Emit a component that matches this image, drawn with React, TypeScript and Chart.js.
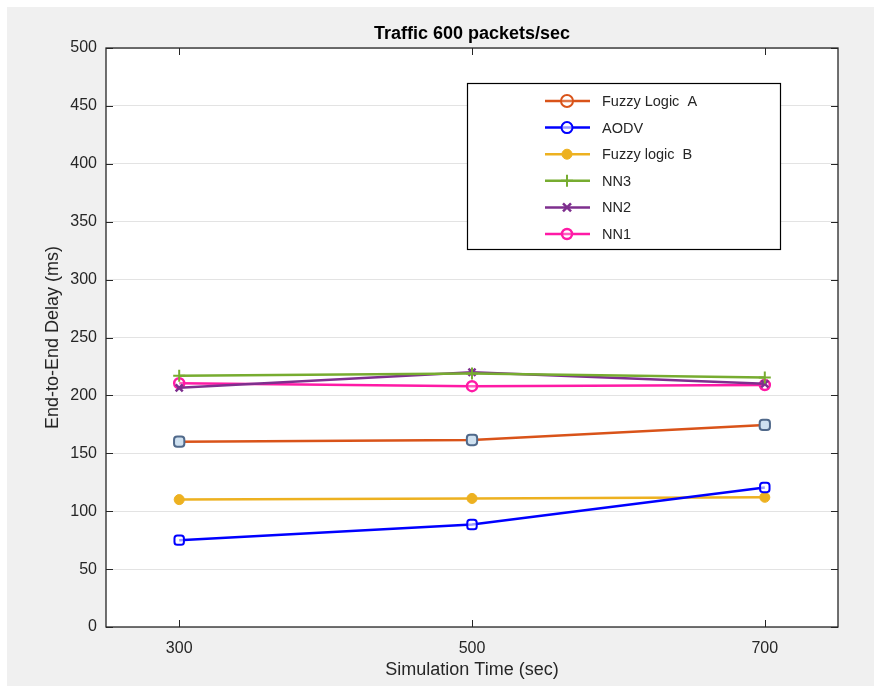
import React, { useEffect, useRef } from "react";
import { Chart, registerables } from "chart.js";

Chart.register(...registerables);

const simTimes = [300, 500, 700];
const yTicks = [0, 50, 100, 150, 200, 250, 300, 350, 400, 450, 500];
const fuzzyA = [160, 161.5, 174.5];
const aodv = [75, 88.5, 120.5];
const fuzzyB = [110, 111, 112];
const nn3 = [217, 219, 215.5];
const nn2 = [206.5, 220, 210];
const nn1 = [210.5, 208, 209];

const seriesNames = ["Fuzzy Logic  A", "AODV", "Fuzzy logic  B", "NN3", "NN2", "NN1"];
const seriesData = [fuzzyA, aodv, fuzzyB, nn3, nn2, nn1];
const seriesColors = ["#D95319", "#0000FF", "#EDB120", "#77AC30", "#7E2F8E", "#FF1AA6"];

const TEXT = "#262626";
const FONT = "'Liberation Sans', Arial, Helvetica, sans-serif";

type MarkerDef = { style: string; radius: number; fill: string; border: string; bw: number };
const markers: MarkerDef[] = [
  { style: "rectRounded", radius: 6, fill: "#cfe1f0", border: "#50698a", bw: 2 },
  { style: "rectRounded", radius: 5.5, fill: "rgba(255,255,255,0.6)", border: "#0000FF", bw: 2 },
  { style: "circle", radius: 5, fill: "#EDB120", border: "#EDB120", bw: 1 },
  { style: "cross", radius: 6, fill: "#77AC30", border: "#77AC30", bw: 2 },
  { style: "crossRot", radius: 5, fill: "#7E2F8E", border: "#7E2F8E", bw: 2.5 },
  { style: "circle", radius: 5, fill: "rgba(255,255,255,0.3)", border: "#FF1AA6", bw: 2.5 },
];

function drawLegendMarker(ctx: CanvasRenderingContext2D, style: string, x: number, y: number, r: number, fill: string, border: string, bw: number) {
  ctx.fillStyle = fill;
  ctx.strokeStyle = border;
  ctx.lineWidth = bw;
  ctx.beginPath();
  if (style === "circle") {
    ctx.arc(x, y, r, 0, Math.PI * 2);
    ctx.fill();
    ctx.stroke();
  } else if (style === "cross") {
    ctx.moveTo(x, y - r);
    ctx.lineTo(x, y + r);
    ctx.moveTo(x - r, y);
    ctx.lineTo(x + r, y);
    ctx.stroke();
  } else if (style === "crossRot") {
    const d = r * 0.8;
    ctx.moveTo(x - d, y - d);
    ctx.lineTo(x + d, y + d);
    ctx.moveTo(x + d, y - d);
    ctx.lineTo(x - d, y + d);
    ctx.stroke();
  }
}

const decorPlugin = {
  id: "decor",
  beforeDraw(chart: any) {
    const ctx = chart.ctx;
    ctx.save();
    ctx.fillStyle = "#ffffff";
    ctx.fillRect(0, 0, chart.width, chart.height);
    ctx.fillStyle = "#f0f0f0";
    ctx.fillRect(7, 7, chart.width - 7, chart.height - 7);
    const a = chart.chartArea;
    ctx.fillStyle = "#ffffff";
    ctx.fillRect(a.left, a.top, a.right - a.left, a.bottom - a.top);
    ctx.restore();
  },
  afterDatasetsDraw(chart: any) {
    const ctx = chart.ctx;
    const a = chart.chartArea;
    const xs = chart.scales.x;
    const ys = chart.scales.y;
    ctx.save();
    ctx.strokeStyle = TEXT;
    ctx.lineWidth = 1.3;
    ctx.strokeRect(a.left, a.top, a.right - a.left, a.bottom - a.top);
    const tl = 7;
    ctx.beginPath();
    for (const v of yTicks) {
      const y = Math.round(ys.getPixelForValue(v)) + 0.5;
      ctx.moveTo(a.left, y);
      ctx.lineTo(a.left + tl, y);
      ctx.moveTo(a.right, y);
      ctx.lineTo(a.right - tl, y);
    }
    for (const v of simTimes) {
      const x = Math.round(xs.getPixelForValue(v)) + 0.5;
      ctx.moveTo(x, a.top);
      ctx.lineTo(x, a.top + tl);
      ctx.moveTo(x, a.bottom);
      ctx.lineTo(x, a.bottom - tl);
    }
    ctx.lineWidth = 1;
    ctx.stroke();

    ctx.fillStyle = "#000000";
    ctx.font = `bold 18px ${FONT}`;
    ctx.textAlign = "center";
    ctx.textBaseline = "middle";
    ctx.fillText("Traffic 600 packets/sec", (a.left + a.right) / 2, 34);

    ctx.fillStyle = TEXT;
    ctx.font = `18px ${FONT}`;
    ctx.fillText("Simulation Time (sec)", (a.left + a.right) / 2, 670);
    ctx.save();
    ctx.translate(53, (a.top + a.bottom) / 2);
    ctx.rotate(-Math.PI / 2);
    ctx.fillText("End-to-End Delay (ms)", 0, 0);
    ctx.restore();

    const lx = 467, ly = 83, lw = 313, lh = 166;
    ctx.fillStyle = "#ffffff";
    ctx.fillRect(lx, ly, lw, lh);
    ctx.strokeStyle = "#000000";
    ctx.lineWidth = 1.2;
    ctx.strokeRect(lx + 0.5, ly + 0.5, lw, lh);
    ctx.font = `14.5px ${FONT}`;
    ctx.textAlign = "left";
    for (let i = 0; i < seriesNames.length; i++) {
      const y = 101 + i * 26.6;
      const c = seriesColors[i];
      ctx.strokeStyle = c;
      ctx.lineWidth = 2.5;
      ctx.beginPath();
      ctx.moveTo(545, y);
      ctx.lineTo(590, y);
      ctx.stroke();
      const m = markers[i];
      let style = m.style;
      let fill = m.fill;
      let border = m.border;
      if (i === 0) { style = "circle"; fill = "rgba(255,255,255,0.2)"; border = c; }
      if (i === 1) { style = "circle"; }
      drawLegendMarker(ctx, style, 567, y, m.radius, fill, border, m.bw);
      ctx.fillStyle = TEXT;
      ctx.fillText(seriesNames[i], 602, y + 1);
    }
    ctx.restore();
  },
};

export default function App() {
  const ref = useRef<HTMLCanvasElement | null>(null);
  useEffect(() => {
    document.body.style.margin = "0";
    const canvas = ref.current!;
    const datasets = seriesData.map((vals, i) => ({
      label: seriesNames[i],
      data: simTimes.map((t, j) => ({ x: t, y: vals[j] })),
      borderColor: seriesColors[i],
      backgroundColor: markers[i].fill,
      pointBorderColor: markers[i].border,
      pointBackgroundColor: markers[i].fill,
      pointStyle: markers[i].style as any,
      pointRadius: markers[i].radius,
      pointBorderWidth: markers[i].bw,
      borderWidth: 2.5,
      tension: 0,
      fill: false,
    }));
    const chart = new Chart(canvas, {
      type: "line",
      data: { datasets },
      plugins: [decorPlugin],
      options: {
        animation: false,
        responsive: false,
        maintainAspectRatio: false,
        layout: { padding: { left: 0, top: 48, right: 36, bottom: 0 } },
        plugins: { legend: { display: false }, title: { display: false }, tooltip: { enabled: false } },
        scales: {
          x: {
            type: "linear",
            min: 250,
            max: 750,
            afterBuildTicks: (s: any) => { s.ticks = simTimes.map((v) => ({ value: v })); },
            afterFit: (s: any) => { s.height = 686 - 627; },
            grid: { display: false, drawTicks: false },
            border: { display: false },
            ticks: {
              padding: 12,
              color: TEXT,
              font: { family: FONT, size: 16 },
              maxRotation: 0,
            },
          },
          y: {
            type: "linear",
            min: 0,
            max: 500,
            afterBuildTicks: (s: any) => { s.ticks = yTicks.map((v) => ({ value: v })); },
            afterFit: (s: any) => { s.width = 106; },
            grid: { color: "#e3e3e3", lineWidth: 1, drawTicks: false },
            border: { display: false },
            ticks: {
              padding: 9,
              color: TEXT,
              font: { family: FONT, size: 16 },
            },
          },
        },
      },
    });
    return () => chart.destroy();
  }, []);
  return (
    <div style={{ width: 874, height: 686, overflow: "hidden" }}>
      <canvas ref={ref} width={874} height={686} style={{ display: "block" }} />
    </div>
  );
}
